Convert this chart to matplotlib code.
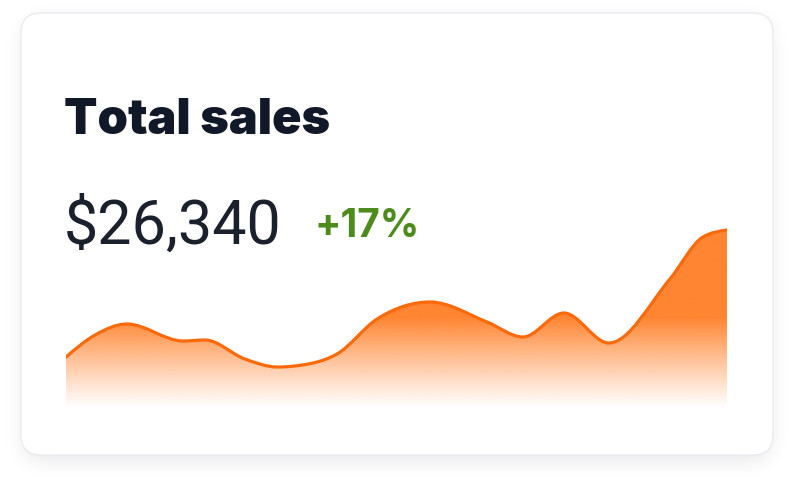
import numpy as np
import matplotlib
matplotlib.use("Agg")
import matplotlib.pyplot as plt
from matplotlib.patches import FancyBboxPatch, PathPatch
from matplotlib.path import Path
from matplotlib.colors import to_rgb

# ---- data ----
title = "Total sales"
total_label = "$26,340"
change_label = "+17%"
days = [0.0, 1.32, 2.77, 5.31, 6.31, 8.12, 9.58, 11.21, 12.30, 14.12, 16.52,
        19.11, 20.74, 22.60, 24.64, 27.41, 28.91, 30.0]
sales = [52, 74, 85, 68, 69, 50, 42, 46, 55, 90, 107,
         87, 72, 96, 66, 130, 172, 179]

W, H, DPI = 794, 489, 100
fig = plt.figure(figsize=(W / DPI, H / DPI), dpi=DPI)
fig.patch.set_facecolor("white")

# ---- card with soft shadow (figure pixel coords) ----
bg = fig.add_axes([0, 0, 1, 1])
bg.set_xlim(0, W)
bg.set_ylim(H, 0)
bg.axis("off")
cx0, cy0, cx1, cy1, rad = 21, 14, 773, 456, 20

# blurred rounded-rect shadow
yy_, xx_ = np.mgrid[0:H, 0:W] + 0.5
sx0, sy0, sx1, sy1 = cx0 + 2, cy0 + 8, cx1 - 2, cy1 + 6
qx = np.clip(np.maximum(sx0 + rad - xx_, xx_ - (sx1 - rad)), 0, None)
qy = np.clip(np.maximum(sy0 + rad - yy_, yy_ - (sy1 - rad)), 0, None)
inside = ((qx ** 2 + qy ** 2) <= rad ** 2).astype(float)
sig = 9.0
kr = np.arange(-30, 31)
kern = np.exp(-kr ** 2 / (2 * sig ** 2))
kern /= kern.sum()
blur = np.apply_along_axis(lambda r: np.convolve(r, kern, mode="same"), 1, inside)
blur = np.apply_along_axis(lambda c: np.convolve(c, kern, mode="same"), 0, blur)
shadow = np.zeros((H, W, 4))
shadow[..., :3] = to_rgb("#4b5563")
shadow[..., 3] = blur * 0.13
bg.imshow(shadow, extent=[0, W, H, 0], origin="upper", aspect="auto",
          interpolation="bilinear", zorder=0)
bg.set_xlim(0, W)
bg.set_ylim(H, 0)

card = FancyBboxPatch((cx0, cy0), cx1 - cx0, cy1 - cy0,
                      boxstyle=f"round,pad=0,rounding_size={rad}",
                      fc="white", ec="#e9ebef", lw=1.0, zorder=1)
bg.add_patch(card)

# ---- text ----
bg.text(64, 134, title, fontsize=35, fontweight=900, family=["Inter", "DejaVu Sans"],
        color="#111827", va="baseline", ha="left", zorder=2)
bg.text(64, 244, total_label, fontsize=44, fontweight=400, family=["Roboto", "DejaVu Sans"],
        color="#1a202c", va="baseline", ha="left", zorder=2)
bg.text(315, 237, change_label, fontsize=28, fontweight=700, family=["Inter", "DejaVu Sans"],
        color="#4d8c1c", va="baseline", ha="left", zorder=2)

# ---- sparkline area ----
x0px, x1px, ybot, ytop = 66, 727, 410, 220
ax = fig.add_axes([x0px / W, (H - ybot) / H, (x1px - x0px) / W, (ybot - ytop) / H])
ax.axis("off")

x = np.array(days, float)
y = np.array(sales, float)
n = len(x)
# monotone cubic (Fritsch-Carlson / d3 monotoneX) tangents -> Bezier path
dx = np.diff(x)
sl = np.diff(y) / dx
m = np.zeros(n)
for i in range(1, n - 1):
    if sl[i - 1] * sl[i] <= 0:
        m[i] = 0.0
    else:
        p = (sl[i - 1] * dx[i] + sl[i] * dx[i - 1]) / (dx[i - 1] + dx[i])
        m[i] = np.sign(sl[i - 1]) * min(abs(p), 2 * abs(sl[i - 1]), 2 * abs(sl[i]))
m[0] = (3 * sl[0] - m[1]) / 2 if sl[0] * (3 * sl[0] - m[1]) > 0 else 0
m[-1] = (3 * sl[-1] - m[-2]) / 2 if sl[-1] * (3 * sl[-1] - m[-2]) > 0 else 0
verts = [(x[0], y[0])]
codes = [Path.MOVETO]
for i in range(n - 1):
    h = dx[i] / 3.0
    verts += [(x[i] + h, y[i] + m[i] * h), (x[i + 1] - h, y[i + 1] - m[i + 1] * h),
              (x[i + 1], y[i + 1])]
    codes += [Path.CURVE4] * 3
line_path = Path(verts, codes)
fill_path = Path(verts + [(x[-1], 0), (x[0], 0), (x[0], y[0])],
                 codes + [Path.LINETO, Path.LINETO, Path.CLOSEPOLY])

orange = to_rgb("#ff7a1f")
N = 300
gy = np.linspace(0, ybot - ytop, N)
alpha = np.clip(gy / (410 - 318), 0, 1) ** 1.1 * 0.92
img = np.zeros((N, 1, 4))
img[..., 0], img[..., 1], img[..., 2] = orange
img[:, 0, 3] = alpha
im = ax.imshow(img, extent=[x[0], x[-1], 0, ybot - ytop], origin="lower",
               aspect="auto", interpolation="bilinear", zorder=1)
clip = PathPatch(fill_path, transform=ax.transData, fc="none", ec="none")
ax.add_patch(clip)
im.set_clip_path(clip)
ax.add_patch(PathPatch(line_path, fc="none", ec="#fb6a0a", lw=2.3, zorder=3,
                       capstyle="round", joinstyle="round"))
ax.set_xlim(days[0], days[-1])
ax.set_ylim(0, ybot - ytop)

fig.savefig("out.png", dpi=DPI, facecolor="white")
